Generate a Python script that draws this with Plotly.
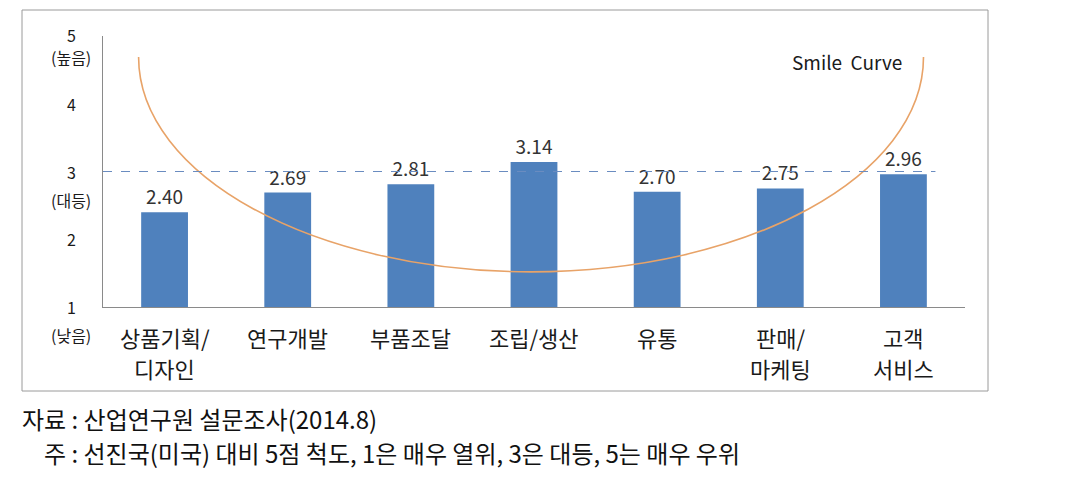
import plotly.graph_objects as go

# ---- data ----
categories = ["상품기획/\n디자인", "연구개발", "부품조달", "조립/생산", "유통", "판매/\n마케팅", "고객\n서비스"]
scores = [2.40, 2.69, 2.81, 3.14, 2.70, 2.75, 2.96]
y_tick_values = [5, 4, 3, 2, 1]
y_tick_numbers = ["5", "4", "3", "2", "1"]
y_tick_notes = {5: "(높음)", 3: "(대등)", 1: "(낮음)"}
parity_level = 3
curve_label = "Smile  Curve"
source_note = "자료 : 산업연구원 설문조사(2014.8)"
footnote = "주 : 선진국(미국) 대비 5점 척도, 1은 매우 열위, 3은 대등, 5는 매우 우위"

# ---- layout geometry (screen pixels; page body has an 8px margin) ----
W, H = 1088, 496
OFF = 8
PL, PR, PT, PB = 103, 965, 36, 307          # plot area on screen
L, T = PL - OFF, PT - OFF
R, B = W - (PR - OFF), H - (PB - OFF)
PW, PH = PR - PL, PB - PT

def px_x(px):
    return (px - PL) / PW

def px_y(py):
    return (PB - py) / PH

FONT = "Noto Sans CJK KR"
TXT = "#1a1a1a"
x_idx = list(range(len(categories)))

fig = go.Figure()
fig.add_trace(go.Bar(
    x=x_idx, y=[s - 1 for s in scores], base=1,
    width=0.38,
    marker=dict(color="#4F81BD", line=dict(width=0)),
    text=[f"{s:.2f}" for s in scores],
    textposition="outside",
    textfont=dict(family=FONT, size=19, color="#333333"),
    cliponaxis=False,
    hoverinfo="skip",
))

# smile curve: half ellipse (decorative) in data units
cx, cy, a, b = 2.976, 4.689, 3.187, 3.170
k = 0.5523
path = (f"M {cx-a},{cy} C {cx-a},{cy-k*b} {cx-k*a},{cy-b} {cx},{cy-b} "
        f"C {cx+k*a},{cy-b} {cx+a},{cy-k*b} {cx+a},{cy}")
shapes = [
    dict(type="path", xref="x", yref="y", path=path,
         line=dict(color="#E8A368", width=1.6), layer="above"),
    dict(type="line", xref="x", yref="y", x0=-0.5, x1=6.26, y0=parity_level, y1=parity_level,
         line=dict(color="#6A8CC0", width=1, dash="dash"), layer="above"),
    dict(type="rect", xref="paper", yref="paper",
         x0=px_x(22), x1=px_x(988), y0=px_y(391), y1=px_y(10),
         line=dict(color="#9a9a9a", width=1)),
]

annotations = []
# y-axis labels
for v, n in zip(y_tick_values, y_tick_numbers):
    annotations.append(dict(xref="paper", yref="y", x=px_x(71), y=v, text=n,
                            yshift=1 if v == 5 else 0,
                            showarrow=False, xanchor="center", yanchor="middle",
                            font=dict(family=FONT, size=16, color=TXT)))
    if v in y_tick_notes:
        shift = -21 if v == 5 else -28
        annotations.append(dict(xref="paper", yref="y", x=px_x(71), y=v, yshift=shift,
                                text=y_tick_notes[v], showarrow=False,
                                xanchor="center", yanchor="middle",
                                font=dict(family=FONT, size=16, color=TXT)))

# category labels (one annotation per line)
for i, cat in enumerate(categories):
    for j, line in enumerate(cat.split("\n")):
        annotations.append(dict(xref="x", yref="paper", x=i, y=px_y(337 + 31 * j), text=line,
                                showarrow=False, xanchor="center", yanchor="middle",
                                font=dict(family=FONT, size=22, color=TXT)))

annotations.append(dict(xref="x", yref="y", x=5.54, y=4.63, text=curve_label, showarrow=False,
                        xanchor="center", yanchor="middle",
                        font=dict(family=FONT, size=19, color=TXT)))
annotations.append(dict(xref="paper", yref="paper", x=px_x(20), y=px_y(418), text=source_note,
                        showarrow=False, xanchor="left", yanchor="middle",
                        font=dict(family=FONT, size=24, color="#111111")))
annotations.append(dict(xref="paper", yref="paper", x=px_x(42), y=px_y(452), text=footnote,
                        showarrow=False, xanchor="left", yanchor="middle",
                        font=dict(family=FONT, size=24, color="#111111")))

fig.update_layout(
    width=W, height=H,
    margin=dict(l=L, r=R, t=T, b=B, pad=0),
    paper_bgcolor="white", plot_bgcolor="white",
    showlegend=False,
    xaxis=dict(range=[-0.5, 6.5], showticklabels=False,
               showline=True, linecolor="#8a8a8a", linewidth=1,
               showgrid=False, zeroline=False, ticks=""),
    yaxis=dict(range=[1, 5], showticklabels=False, showline=True, linecolor="#8a8a8a",
               linewidth=1, showgrid=False, zeroline=False, ticks=""),
    shapes=shapes,
    annotations=annotations,
)

fig.write_html("out.html")
